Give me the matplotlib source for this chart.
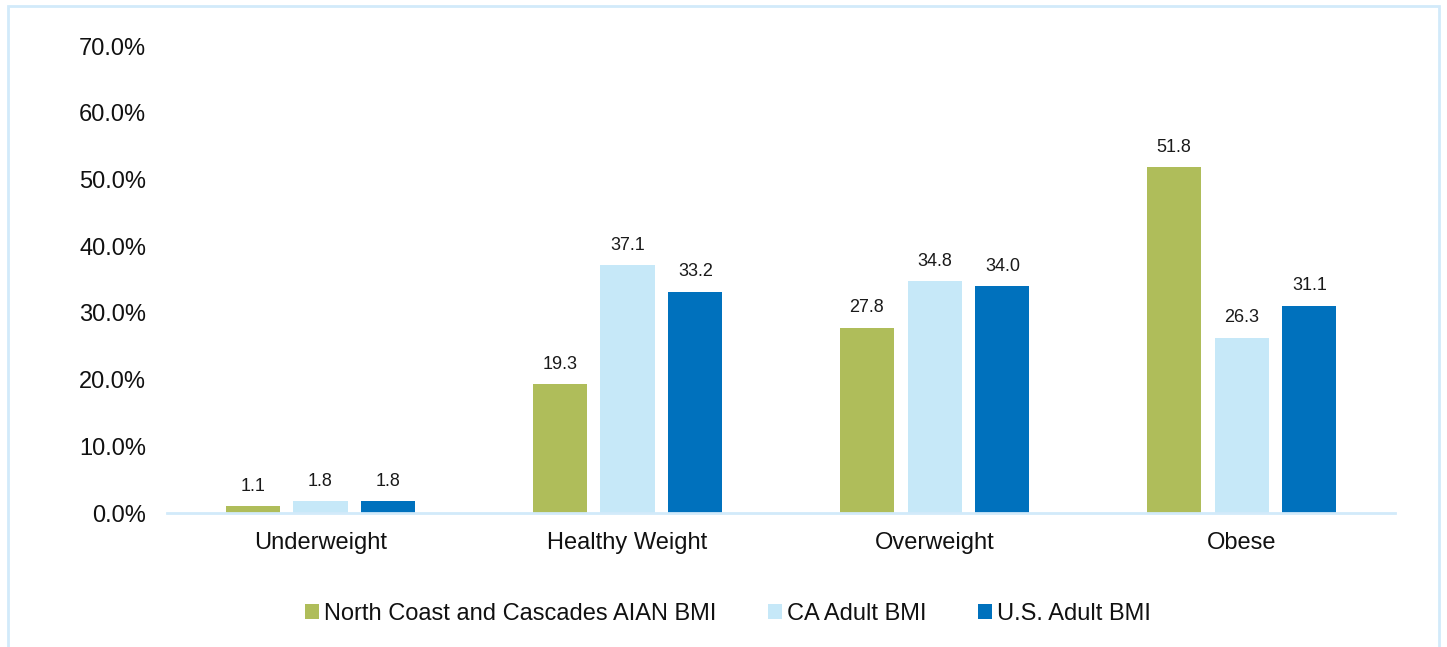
import matplotlib.pyplot as plt
import matplotlib.patches as mpatches
import numpy as np

plt.rcParams['font.family'] = ['Liberation Sans', 'DejaVu Sans']

# BMI categories and the three comparison series (percent of adults)
categories = ['Underweight', 'Healthy Weight', 'Overweight', 'Obese']
series_names = ['North Coast and Cascades AIAN BMI', 'CA Adult BMI', 'U.S. Adult BMI']
aian_bmi = [1.1, 19.3, 27.8, 51.8]
ca_bmi = [1.8, 37.1, 34.8, 26.3]
us_bmi = [1.8, 33.2, 34.0, 31.1]

COLORS = ['#AFBD5A', '#C6E8F8', '#0071BD']
BORDER_COLOR = '#D2EAFA'

fig = plt.figure(figsize=(14.47, 6.47), dpi=100)
ax = fig.add_axes([0.1154, 0.2071, 0.8487, 0.7218])

x = np.arange(len(categories))
width = 0.176
step = 0.221

for i, (name, vals) in enumerate(zip(series_names, [aian_bmi, ca_bmi, us_bmi])):
    pos = x + (i - 1) * step
    bars = ax.bar(pos, vals, width, color=COLORS[i], label=name)
    for b, v in zip(bars, vals):
        ax.annotate(f'{v:.1f}', (b.get_x() + b.get_width() / 2, v),
                    xytext=(0, 8), textcoords='offset points',
                    ha='center', va='bottom', fontsize=13, color='#1a1a1a')

ax.set_xlim(-0.5, len(categories) - 0.5)
ax.set_ylim(0, 70)
ax.set_yticks(np.arange(0, 71, 10))
ax.set_yticklabels([f'{t:.1f}%' for t in np.arange(0, 71, 10)])
ax.set_xticks(x)
ax.set_xticklabels(categories)
ax.tick_params(axis='y', length=0, pad=15, labelsize=17, labelcolor='#111111')
ax.tick_params(axis='x', length=0, pad=14, labelsize=17, labelcolor='#111111')

for side in ['top', 'right', 'left']:
    ax.spines[side].set_visible(False)
ax.spines['bottom'].set_color(BORDER_COLOR)
ax.spines['bottom'].set_linewidth(2)

fig.legend(loc='center', bbox_to_anchor=(0.503, 1 - 614 / 647), ncol=3,
           frameon=False, fontsize=17, handlelength=0.6, handleheight=0.6,
           handletextpad=0.2, columnspacing=2.2, labelcolor='#111111')

# light outline around the chart area, running off the bottom edge
fig.patches.append(mpatches.Rectangle((8 / 1447, -0.02), (1439 - 8) / 1447, 1.02 - 6 / 647,
                                      transform=fig.transFigure, fill=False,
                                      edgecolor=BORDER_COLOR, linewidth=2))

fig.savefig('out.png', dpi=100)
